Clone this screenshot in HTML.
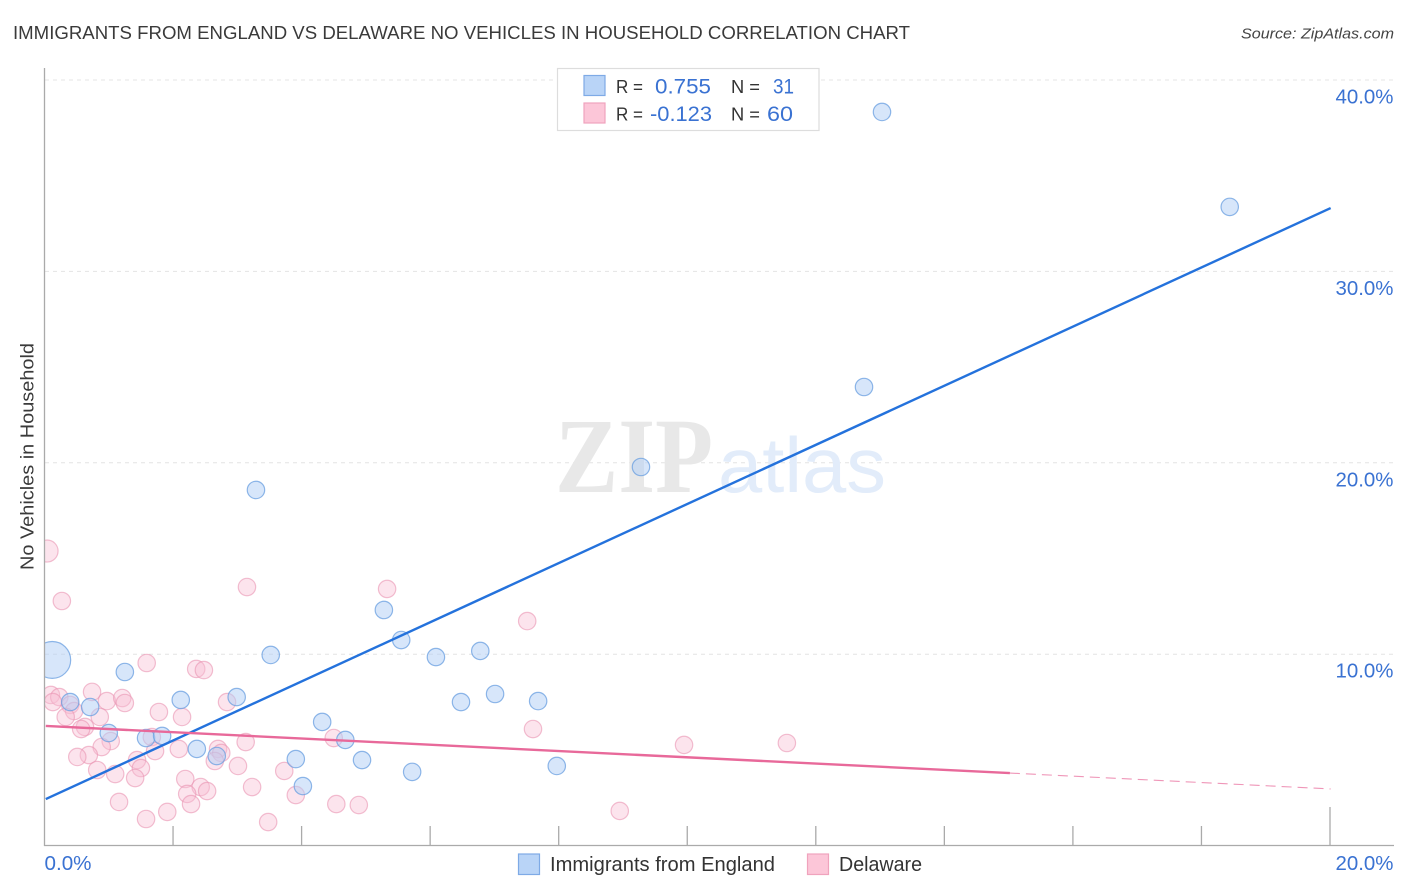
<!DOCTYPE html>
<html lang="en">
<head>
<meta charset="utf-8">
<title>Immigrants from England vs Delaware No Vehicles in Household Correlation Chart</title>
<style>
html,body{margin:0;padding:0;background:#fff;width:1406px;height:892px;overflow:hidden}
svg{display:block}
text{font-family:"Liberation Sans",sans-serif}
</style>
</head>
<body>
<svg id="chart" width="1406" height="892" viewBox="0 0 1406 892" xmlns="http://www.w3.org/2000/svg">
  <defs>
    <clipPath id="plot-clip"><rect x="45" y="60" width="1349" height="786"/></clipPath>
  </defs>
  <rect x="0" y="0" width="1406" height="892" fill="#fff"/>
  <text x="13" y="39" font-size="18.5" fill="#3a3a3a" textLength="897" lengthAdjust="spacingAndGlyphs">IMMIGRANTS FROM ENGLAND VS DELAWARE NO VEHICLES IN HOUSEHOLD CORRELATION CHART</text>
  <text x="1394" y="38.5" font-size="15" font-style="italic" fill="#444" text-anchor="end" textLength="153" lengthAdjust="spacingAndGlyphs">Source: ZipAtlas.com</text>

  <g id="grid"></g>

  <g>
    <text x="555" y="492" font-size="107" font-weight="bold" fill="#e8e8e8" textLength="158" lengthAdjust="spacingAndGlyphs" style="font-family:'Liberation Serif',serif">ZIP</text>
    <text x="718" y="492" font-size="78" fill="#e2ecfa" textLength="168" lengthAdjust="spacingAndGlyphs">atlas</text>
  </g>

  <g id="pink-points" clip-path="url(#plot-clip)"></g>
  <g id="blue-points" clip-path="url(#plot-clip)"></g>
  <g id="trends"></g>
  <g id="axes"></g>

  <text transform="translate(33.5,456.5) rotate(-90)" font-size="18.5" fill="#3a3a3a" text-anchor="middle" textLength="227" lengthAdjust="spacingAndGlyphs">No Vehicles in Household</text>

  <g>
    <rect x="557.5" y="68.5" width="261.5" height="62" fill="#fff" stroke="#ddd" stroke-width="1.2"/>
    <rect x="584" y="75.5" width="21" height="20" fill="#b9d4f7" stroke="#7eaae6" stroke-width="1.2"/>
    <rect x="584" y="103" width="21" height="20" fill="#fcc6d8" stroke="#f0a3bd" stroke-width="1.2"/>
    <text x="616" y="93" font-size="18.5" fill="#333" textLength="27" lengthAdjust="spacingAndGlyphs">R =</text>
    <text x="655" y="93.5" font-size="21.5" fill="#3a72d2" textLength="56" lengthAdjust="spacingAndGlyphs">0.755</text>
    <text x="731" y="93" font-size="18.5" fill="#333" textLength="29" lengthAdjust="spacingAndGlyphs">N =</text>
    <text x="773" y="93.5" font-size="21.5" fill="#3a72d2" textLength="21" lengthAdjust="spacingAndGlyphs">31</text>
    <text x="616" y="120.5" font-size="18.5" fill="#333" textLength="27" lengthAdjust="spacingAndGlyphs">R =</text>
    <text x="650" y="121" font-size="21.5" fill="#3a72d2" textLength="62" lengthAdjust="spacingAndGlyphs">-0.123</text>
    <text x="731" y="120.5" font-size="18.5" fill="#333" textLength="29" lengthAdjust="spacingAndGlyphs">N =</text>
    <text x="767" y="121" font-size="21.5" fill="#3a72d2" textLength="26" lengthAdjust="spacingAndGlyphs">60</text>
  </g>

  <g>
    <rect x="518.5" y="854" width="21" height="20.5" fill="#b9d4f7" stroke="#7eaae6" stroke-width="1.2"/>
    <text x="550" y="871" font-size="20" fill="#333" textLength="225" lengthAdjust="spacingAndGlyphs">Immigrants from England</text>
    <rect x="807.5" y="854" width="21" height="20.5" fill="#fcc6d8" stroke="#f0a3bd" stroke-width="1.2"/>
    <text x="839" y="871" font-size="20" fill="#333" textLength="83" lengthAdjust="spacingAndGlyphs">Delaware</text>
  </g>
</svg>
<script>
const englandX = [13.03,18.44,12.75,9.28,3.29,5.28,5.55,6.09,6.78,3.52,1.25,2.12,2.99,6.48,7.01,7.68,4.32,4.68,4.94,3.91,5.72,7.97,4.02,0.12,0.40,0.71,1.00,1.58,1.83,2.37,2.68];
const englandY = [38.33,33.37,23.96,19.78,18.58,12.31,10.74,9.85,10.17,9.96,9.07,7.61,7.76,7.50,7.92,7.55,6.46,5.52,4.47,4.52,3.85,4.16,3.11,9.70,7.50,7.24,5.88,5.62,5.73,5.05,4.68];
const englandWeight = [1,1,1,1,1,1,1,1,1,1,1,1,1,1,1,1,1,1,1,1,1,1,1,4.5,1,1,1,1,1,1,1];
const delawareX = [1.59,2.36,2.48,0.10,0.23,0.13,0.74,0.97,1.21,1.25,0.40,0.46,0.33,0.86,1.78,2.14,2.84,0.63,0.57,1.03,0.89,0.69,0.51,1.67,1.72,2.09,1.44,1.50,1.41,1.10,0.82,1.16,1.91,1.58,2.19,2.43,2.53,2.22,2.28,2.70,2.75,2.65,3.13,3.01,3.23,3.73,3.91,3.48,4.50,4.54,4.89,3.15,5.33,7.51,7.60,9.95,11.55,8.95,0.27,0.04];
const delawareY = [9.54,9.23,9.17,7.87,7.76,7.50,8.03,7.55,7.71,7.45,7.35,7.03,6.72,6.72,6.98,6.72,7.50,6.20,6.09,5.46,5.15,4.73,4.63,5.67,4.94,5.05,4.47,4.05,3.53,3.74,3.95,2.28,1.76,1.39,3.48,3.06,2.85,2.70,2.17,5.05,4.84,4.42,5.41,4.16,3.06,3.90,2.64,1.23,5.62,2.17,2.12,13.51,13.41,11.73,6.09,5.26,5.36,1.81,12.78,15.39];
const delawareWeight = [1,1,1,1,1,1,1,1,1,1,1,1,1,1,1,1,1,1,1,1,1,1,1,1,1,1,1,1,1,1,1,1,1,1,1,1,1,1,1,1,1,1,1,1,1,1,1,1,1,1,1,1,1,1,1,1,1,1,1,1.6];
const englandTrendX = [0.02,20.01];
const englandTrendY = [2.43,33.31];
const delawareTrendX = [0.02,15.02];
const delawareTrendY = [6.25,3.79];
const delawareDashX = [15.02,20.01];
const delawareDashY = [3.79,2.96];
const yTicks = [10,20,30,40];
const yTickLabels = ["10.0%","20.0%","30.0%","40.0%"];
const xTicks = [2,4,6,8,10,12,14,16,18,20];
const xEndLabels = ["0.0%","20.0%"];

const NS = "http://www.w3.org/2000/svg";
const sx = v => 44.5 + v * 64.275;
const sy = v => 845.6 - v * 19.14;
const BASE_R = 8.7;

function mk(parent, tag, attrs) {
  const el = document.createElementNS(NS, tag);
  for (const k in attrs) el.setAttribute(k, attrs[k]);
  parent.appendChild(el);
  return el;
}

const grid = document.getElementById("grid");
yTicks.forEach((t) => {
  const ln = mk(grid, "line", {x1: 45, x2: 1394, y1: sy(t), y2: sy(t), stroke: "#e4e4e4", "stroke-width": 1, "stroke-dasharray": "4 4"});
  
  
});

const pinkG = document.getElementById("pink-points");
delawareX.forEach((x, i) => {
  const c = mk(pinkG, "circle", {cx: sx(x), cy: sy(delawareY[i]), r: BASE_R * Math.sqrt(delawareWeight[i]), fill: "#f8bfd3", "fill-opacity": 0.42, stroke: "#ea94b2", "stroke-opacity": 0.6, "stroke-width": 1.2});
  
  
});

const blueG = document.getElementById("blue-points");
englandX.forEach((x, i) => {
  const c = mk(blueG, "circle", {cx: sx(x), cy: sy(englandY[i]), r: BASE_R * Math.sqrt(englandWeight[i]), fill: "#b3d0f6", "fill-opacity": 0.52, stroke: "#6a9fe0", "stroke-opacity": 0.75, "stroke-width": 1.2});
  
  
});

const trends = document.getElementById("trends");
const blueLine = mk(trends, "line", {x1: sx(englandTrendX[0]), y1: sy(englandTrendY[0]), x2: sx(englandTrendX[1]), y2: sy(englandTrendY[1]), stroke: "#2472dc", "stroke-width": 2.4});


const pinkLine = mk(trends, "line", {x1: sx(delawareTrendX[0]), y1: sy(delawareTrendY[0]), x2: sx(delawareTrendX[1]), y2: sy(delawareTrendY[1]), stroke: "#e8699a", "stroke-width": 2.4});


const pinkDash = mk(trends, "line", {x1: sx(delawareDashX[0]), y1: sy(delawareDashY[0]), x2: sx(delawareDashX[1]), y2: sy(delawareDashY[1]), stroke: "#e8699a", "stroke-width": 1.1, "stroke-opacity": 0.7, "stroke-dasharray": "10 6"});



const axes = document.getElementById("axes");
const yAxis = mk(axes, "line", {x1: 44.5, x2: 44.5, y1: 68, y2: 846, stroke: "#aaa", "stroke-width": 1.3});


const xAxis = mk(axes, "line", {x1: 44, x2: 1394, y1: 845.5, y2: 845.5, stroke: "#aaa", "stroke-width": 1.3});


xTicks.forEach((t, i) => {
  const top = i === xTicks.length - 1 ? 807 : 826;
  const tk = mk(axes, "line", {x1: sx(t), x2: sx(t), y1: top, y2: 845.5, stroke: "#aaa", "stroke-width": 1.3});
  
  
});
yTicks.forEach((t, i) => {
  const lb = mk(axes, "text", {x: 1393.5, y: sy(t) + 23.5, "font-size": 20, fill: "#3a72d2", "text-anchor": "end", textLength: 58, lengthAdjust: "spacingAndGlyphs"});
  lb.textContent = yTickLabels[i];
  
  
});
const x0Label = mk(axes, "text", {x: 44.5, y: 870, "font-size": 20, fill: "#3a72d2", textLength: 47, lengthAdjust: "spacingAndGlyphs"});
x0Label.textContent = xEndLabels[0];


const x1Label = mk(axes, "text", {x: 1393.5, y: 870, "font-size": 20, fill: "#3a72d2", "text-anchor": "end", textLength: 58, lengthAdjust: "spacingAndGlyphs"});
x1Label.textContent = xEndLabels[1];


</script>
</body>
</html>
